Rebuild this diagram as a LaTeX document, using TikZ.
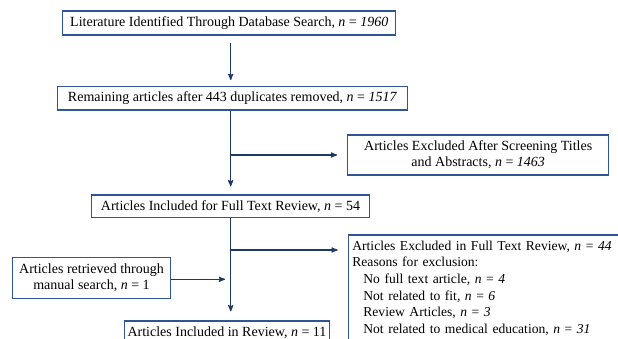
\documentclass[tikz,border=0pt]{standalone}
\usepackage{fontspec}
\setmainfont{Liberation Serif}
\usetikzlibrary{arrows,positioning}
\definecolor{boxblue}{HTML}{2F5597}
\definecolor{linkblue}{HTML}{203864}

\begin{document}
\begin{tikzpicture}[x=1pt,y=-1pt,
    main box/.style={rectangle,draw=boxblue,line width=1.3pt,fill=white,
    font=\fontsize{14}{16}\selectfont,inner sep=0pt,align=center},
    link/.style={->,>=stealth',draw=linkblue,line width=1.2pt,shorten >=8pt}]

    \clip (0,0) rectangle (618,339);

    \node[main box,minimum width=333pt,minimum height=24pt] (DatabaseSearch) at (229.3,22.9) {Literature Identified Through Database Search, \textit{n} = \textit{1960}};

    \node[main box,minimum width=350pt,minimum height=23.3pt] (RemainingArticles) at (232.5,98.3) {Remaining articles after 443 duplicates removed, \textit{n} = \textit{1517}};

    \node[main box,minimum width=261pt,minimum height=40pt] (ExcludedScreening) at (478.2,155) {Articles Excluded After Screening Titles\\and Abstracts, \textit{n} = \textit{1463}};

    \node[main box,minimum width=277.6pt,minimum height=22.3pt] (FullTextReview) at (230.5,206.2) {Articles Included for Full Text Review, \textit{n} = 54};

    \node[main box,minimum width=158.4pt,minimum height=40.6pt] (ManualSearch) at (91.5,278) {Articles retrieved through\\manual search, \textit{n} = 1};

    \node[main box,anchor=north west,text width=262pt,align=left,inner xsep=4pt,inner ysep=6pt,
      font=\fontsize{13.6}{16.6}\selectfont] (ExcludedFullText) at (347.7,234.3) {Articles Excluded in Full Text Review, \textit{n} = \textit{44}\\
      Reasons for exclusion:\\
      \hspace*{11pt}No full text article, \textit{n} = \textit{4}\\
      \hspace*{11pt}Not related to fit, \textit{n} = \textit{6}\\
      \hspace*{11pt}Review Articles, \textit{n} = \textit{3}\\
      \hspace*{11pt}Not related to medical education, \textit{n} = \textit{31}};

    \node[main box,minimum width=204.6pt,minimum height=24pt] (IncludedReview) at (227,333) {Articles Included in Review, \textit{n} = 11};

    % junctions on the main line
    \coordinate (ScreenSplit) at (230.7,155);
    \coordinate (FullSplit) at (230.7,250);
    \coordinate (ManualJoin) at (230.7,279.3);

    \draw [link,shorten <=7pt,shorten >=6pt] (DatabaseSearch.south -| ScreenSplit) -- (RemainingArticles.north -| ScreenSplit);
    \draw [link] (RemainingArticles.south -| ScreenSplit) -- (FullTextReview.north -| ScreenSplit);
    \draw [link,shorten >=10pt] (ScreenSplit) -- (ExcludedScreening.west |- ScreenSplit);

    \draw [link,shorten >=9pt] (FullTextReview.south -| FullSplit) -- (IncludedReview.north -| FullSplit);
    \draw [link,shorten >=10pt] (FullSplit) -- (ExcludedFullText.west |- FullSplit);
    \draw [link,shorten >=5.7pt] (ManualSearch.east |- ManualJoin) -- (ManualJoin);
\end{tikzpicture}
\end{document}
